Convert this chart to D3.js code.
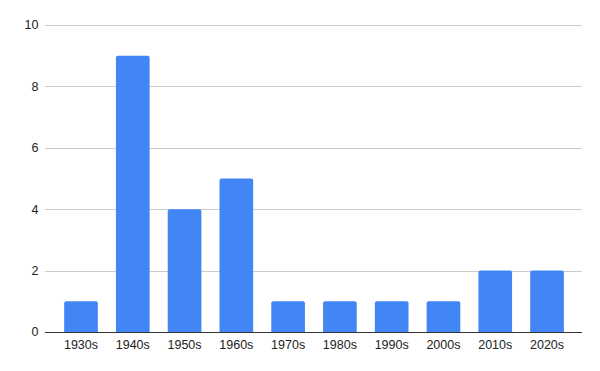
<!DOCTYPE html>
<html><head><meta charset="utf-8">
<script src="https://cdn.jsdelivr.net/npm/d3@7"></script>
<style>body{margin:0;background:#fff}svg{display:block}</style>
</head><body>
<svg id="c" width="600" height="371"></svg>
<script>
const categories = ["1930s","1940s","1950s","1960s","1970s","1980s","1990s","2000s","2010s","2020s"];
const values = [1,9,4,5,1,1,1,1,2,2];
const yTicks = [0,2,4,6,8,10];

const svg = d3.select("#c");
const plotL = 45, plotR = 582, y0 = 332, y1 = 25;
const step = 51.78;
const x = d3.scaleBand().domain(categories)
  .range([81 - step/2, 81 + step*9 + step/2]).paddingInner(0.35).paddingOuter(0.175);
const y = d3.scaleLinear().domain([0,10]).range([y0,y1]);

const font = "Liberation Sans, Arial, sans-serif";

const g = svg.append("g");
g.selectAll("line.grid").data(yTicks.filter(d=>d>0)).join("line")
  .attr("x1",plotL).attr("x2",plotR)
  .attr("y1",d=>Math.round(y(d))+0.5).attr("y2",d=>Math.round(y(d))+0.5)
  .attr("stroke","#cccccc").attr("stroke-width",1);

g.selectAll("text.yt").data(yTicks).join("text")
  .attr("x",38.5).attr("y",d=>y(d)).attr("dy","0.35em")
  .attr("text-anchor","end").attr("font-family",font).attr("font-size",12.5).attr("fill","#222")
  .text(d=>d);

const r = 2;
g.selectAll("path.bar").data(values).join("path")
  .attr("fill","#4285f4")
  .attr("d",(d,i)=>{
    const bx = x(categories[i]), bw = x.bandwidth(), top = y(d), bot = y(0);
    return `M${bx},${bot}V${top+r}Q${bx},${top} ${bx+r},${top}H${bx+bw-r}Q${bx+bw},${top} ${bx+bw},${top+r}V${bot}Z`;
  });

g.append("line").attr("x1",plotL).attr("x2",plotR).attr("y1",y0+0.5).attr("y2",y0+0.5)
  .attr("stroke","#333").attr("stroke-width",1);

g.selectAll("text.xt").data(categories).join("text")
  .attr("x",d=>x(d)+x.bandwidth()/2).attr("y",349.3)
  .attr("text-anchor","middle").attr("font-family",font).attr("font-size",12.5).attr("fill","#222")
  .text(d=>d);
</script>
</body></html>
